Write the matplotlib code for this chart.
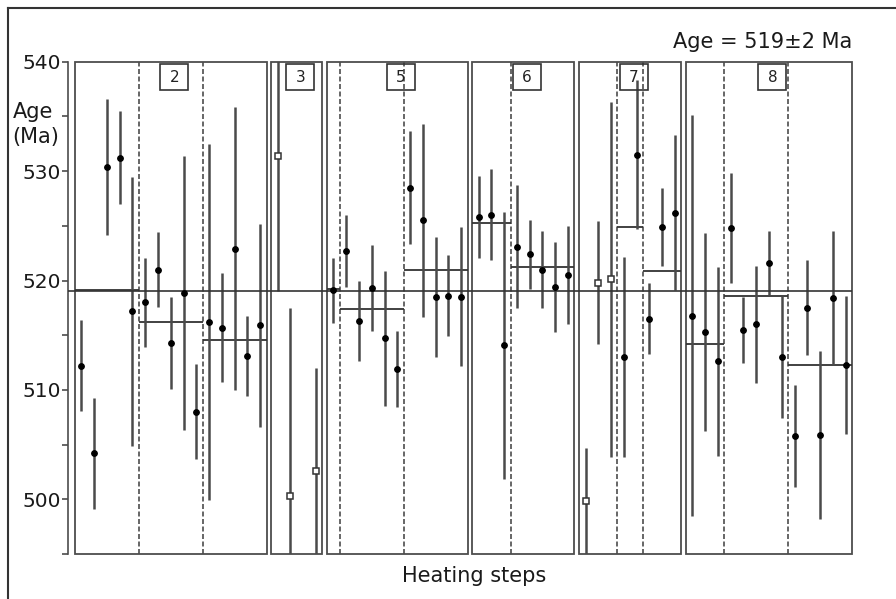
import matplotlib.pyplot as plt
from matplotlib.patches import Rectangle
from matplotlib.lines import Line2D

plt.rcParams['font.family'] = 'DejaVu Sans'

# ---- data ---------------------------------------------------------------

samples = ['2', '3', '5', '6', '7', '8']
# number of heating steps in each sub-group of a sample (split by dashed lines)
group_sizes = [[5, 5, 5], [4], [1, 5, 5], [3, 5], [3, 2, 3], [3, 5, 5]]
# weighted mean of each sub-group (None = no mean drawn)
group_means = [[519.1, 516.2, 514.6], [None], [519.2, 517.4, 521.0],
               [525.3, 521.2], [None, 524.9, 520.9], [514.2, 518.6, 512.3]]
# leading steps of each sample that are rejected (open squares)
n_rejected = [0, 4, 0, 0, 3, 0]

ages_s2 = [512.2, 504.2, 530.4, 531.2, 517.2, 518.0, 521.0, 514.3, 518.85, 508.0,
           516.2, 515.7, 522.9, 513.1, 515.9]
err_s2 = [4.15, 5.1, 6.2, 4.25, 12.3, 4.1, 3.4, 4.2, 12.5, 4.35,
          16.3, 4.95, 12.95, 3.65, 9.25]

ages_s3 = [531.4, 500.3, float('nan'), 502.6]
err_s3 = [12.4, 17.2, float('nan'), 9.4]

ages_s5 = [519.1, 522.7, 516.3, 519.3, 514.7, 511.9, 528.5, 525.5, 518.5, 518.6, 518.5]
err_s5 = [3.0, 3.3, 3.65, 3.9, 6.15, 3.45, 5.2, 8.8, 5.45, 3.7, 6.35]

ages_s6 = [525.8, 526.0, 514.1, 523.1, 522.4, 521.0, 519.4, 520.5]
err_s6 = [3.75, 4.15, 12.2, 5.65, 3.15, 3.5, 4.1, 4.5]

ages_s7 = [499.8, 519.8, 520.1, 513.0, 531.5, 516.5, 524.9, 526.2]
err_s7 = [4.9, 5.65, 16.25, 9.15, 6.8, 3.25, 3.6, 7.1]

ages_s8 = [516.8, 515.3, 512.6, 524.8, 515.5, 516.0, 521.6, 513.0, 505.8, 517.5,
           505.9, 518.4, 512.3]
err_s8 = [18.35, 9.05, 8.6, 5.05, 3.0, 5.35, 2.95, 5.6, 4.65, 4.35,
          7.7, 6.15, 6.3]

ages = [ages_s2, ages_s3, ages_s5, ages_s6, ages_s7, ages_s8]
errs = [err_s2, err_s3, err_s5, err_s6, err_s7, err_s8]

plateau_age = 519
plateau_err = 2

# ---- plot ---------------------------------------------------------------

W, H = 896, 599
ymin, ymax = 495, 540
x_start = 0.55   # space between y axis and first panel (in steps)
gap = 0.37       # space between sample panels

n_total = sum(len(a) for a in ages)
x_end = x_start + n_total + gap * (len(ages) - 1)

fig = plt.figure(figsize=(W / 100, H / 100), dpi=100)
ax = fig.add_axes([68 / W, 45 / H, (852 - 68) / W, (554 - 61.7) / H])
ax.set_xlim(0, x_end)
ax.set_ylim(ymin, ymax)

line_col = '#4d4d4d'
bar_col = '#4a4a4a'

x0 = x_start
for k, name in enumerate(samples):
    n = len(ages[k])
    xs = [x0 + i + 0.5 for i in range(n)]

    # panel frame
    ax.add_patch(Rectangle((x0, ymin), n, ymax - ymin, fill=False,
                           ec=line_col, lw=1.3, clip_on=False, zorder=2))

    # sub-group separators and means
    pos = x0
    for j, size in enumerate(group_sizes[k]):
        if j > 0:
            ax.vlines(pos, ymin, ymax, colors=line_col, lw=1.2,
                      linestyles=(0, (3, 1.5)), zorder=2)
        m = group_means[k][j]
        if m is not None:
            ax.hlines(m, pos, pos + size, colors='#333333', lw=1.3, zorder=3)
        pos += size

    # error bars and points
    for i, (a, e) in enumerate(zip(ages[k], errs[k])):
        if a != a:
            continue
        ax.vlines(xs[i], a - e, a + e, colors=bar_col, lw=1.8, zorder=3)
        if i < n_rejected[k]:
            ax.plot(xs[i], a, 's', ms=4.2, mfc='white', mec='#333333', mew=1.1, zorder=4)
        else:
            ax.plot(xs[i], a, 'o', ms=3.9, color='black', zorder=4)

    # sample label box
    cx = x0 + n / 2 + 0.27
    ax.add_patch(Rectangle((cx - 1.1, 537.4), 2.2, 2.4, fill=False,
                           ec='#333333', lw=1.2, zorder=5))
    ax.text(cx, 538.6, name, ha='center', va='center', fontsize=11, color='#222222')

    x0 += n + gap

# plateau age line
ax.hlines(plateau_age, 0, x_end, colors='#333333', lw=1.2, zorder=3)

# axes styling
for s in ['top', 'right', 'bottom']:
    ax.spines[s].set_visible(False)
ax.spines['left'].set_color(line_col)
ax.spines['left'].set_linewidth(1.2)
ax.set_xticks([])
ax.set_yticks([500, 510, 520, 530, 540])
ax.set_yticks([495, 505, 515, 525, 535], minor=True)
ax.tick_params(axis='y', which='both', direction='out', length=4, width=1.2,
               color=line_col, pad=1, labelsize=14.5, labelcolor='#1a1a1a')

fig.text(852 / W, 1 - 48 / H, f'Age = {plateau_age}±{plateau_err} Ma',
         ha='right', va='baseline', fontsize=15, color='#1a1a1a')
fig.text(474 / W, 1 - 582 / H, 'Heating steps', ha='center', va='baseline',
         fontsize=15, color='#1a1a1a')
fig.text(12.5 / W, 1 - 118 / H, 'Age', ha='left', va='baseline', fontsize=15,
         color='#1a1a1a')
fig.text(12.5 / W, 1 - 143 / H, '(Ma)', ha='left', va='baseline', fontsize=15,
         color='#1a1a1a')

# outer frame
fig.add_artist(Line2D([8 / W, 8 / W], [0, 1 - 8 / H], transform=fig.transFigure,
                      color='#333333', lw=1.5))
fig.add_artist(Line2D([8 / W, 1], [1 - 8 / H, 1 - 8 / H], transform=fig.transFigure,
                      color='#333333', lw=1.5))

fig.savefig('out.png', dpi=100)
